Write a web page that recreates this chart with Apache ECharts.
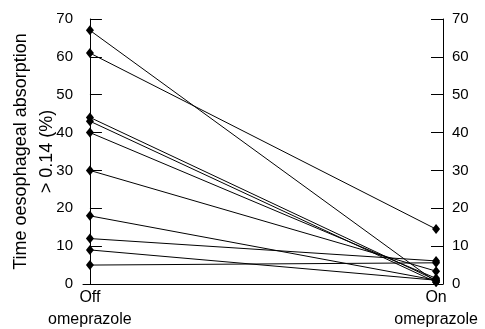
<!DOCTYPE html>
<html>
<head>
<meta charset="utf-8">
<script src="https://cdn.jsdelivr.net/npm/echarts@6/dist/echarts.min.js"></script>
<style>
  html, body { margin: 0; padding: 0; background: #fff; }
  #main { width: 485px; height: 329px; }
</style>
</head>
<body>
<div id="main"></div>
<script>
// each patient: value off omeprazole -> value on omeprazole
const offValues = [67, 61, 44, 43, 40, 30, 18, 12, 9, 5];
const onValues = [0.5, 14.5, 1, 0.5, 1.5, 3.4, 1, 6.1, 1, 5.6];
const conditionLabels = ['Off\nomeprazole', 'On\nomeprazole'];
const yTicks = [0, 10, 20, 30, 40, 50, 60, 70];

const font = 'Liberation Sans, Arial, sans-serif';

let series = offValues.map(function (v, i) {
  return {
    type: 'line',
    data: [[0, v], [1, onValues[i]]],
    symbol: 'diamond',
    symbolSize: [8, 10],
    itemStyle: { color: '#000' },
    lineStyle: { color: '#000', width: 1 },
    silent: true
  };
});

function yAxisCfg(pos) {
  return {
    type: 'value',
    position: pos,
    min: yTicks[0],
    max: yTicks[yTicks.length - 1],
    interval: 10,
    axisLine: { show: true, lineStyle: { color: '#000', width: 1 } },
    axisTick: { show: true, inside: true, length: 12, lineStyle: { color: '#000' } },
    axisLabel: { color: '#000', fontSize: 15, fontFamily: font, margin: pos === 'left' ? 10 : 9 },
    splitLine: { show: false }
  };
}

let leftAxis = yAxisCfg('left');
leftAxis.name = 'Time oesophageal absorption\n> 0.14 (%)';
leftAxis.nameLocation = 'middle';
leftAxis.nameMoveOverlap = false;
leftAxis.nameGap = 23;
leftAxis.nameTextStyle = { color: '#000', fontSize: 18, fontFamily: font, lineHeight: 26 };

let option = {
  animation: false,
  grid: { left: 83, right: 42, top: 19, bottom: 45, outerBoundsMode: 'none' },
  xAxis: {
    type: 'value',
    min: -0.02,
    max: 1.02,
    axisLine: { show: true, onZero: false, lineStyle: { color: '#000', width: 1 } },
    axisTick: { show: false },
    splitLine: { show: false },
    axisLabel: {
      customValues: [0, 1],
      color: '#000',
      fontSize: 16,
      fontFamily: font,
      lineHeight: 22,
      margin: 3,
      formatter: function (v) { return conditionLabels[Math.round(v)]; }
    }
  },
  yAxis: [leftAxis, yAxisCfg('right')],
  series: series
};

let chart = echarts.init(document.getElementById('main'));
chart.setOption(option);
window.addEventListener('resize', chart.resize);
</script>
</body>
</html>
